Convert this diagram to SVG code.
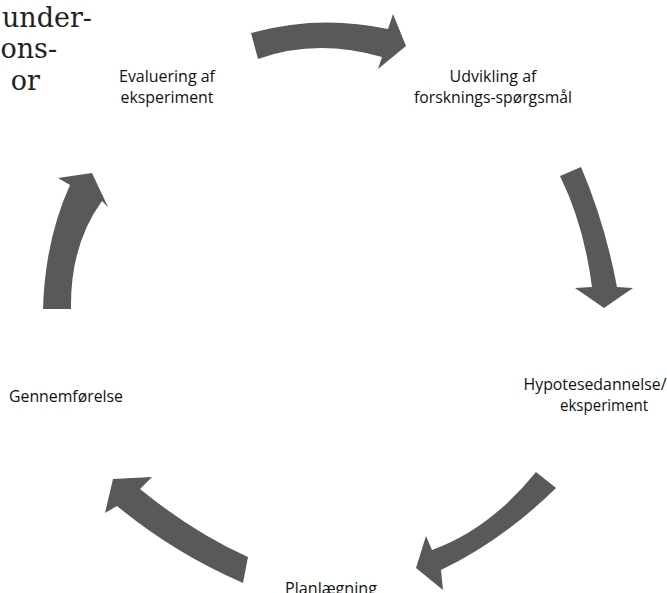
<svg xmlns="http://www.w3.org/2000/svg" width="667" height="593" viewBox="0 0 667 593">
<style>
.lbl{font-family:"Open Sans","Liberation Sans",sans-serif;font-size:16px;fill:#111;text-anchor:middle}
.ser{font-family:"DejaVu Serif","Liberation Serif",serif;font-size:27px;fill:#222;text-anchor:end}
.arr{fill:#595959;stroke:none}
</style>
<rect width="667" height="593" fill="#fff"/>
<g id="bgtext">
<text class="ser" x="92" y="27">under-</text>
<text class="ser" x="57" y="58">ons-</text>
<text class="ser" x="40" y="90">or</text>
</g>
<g id="connectors">
<path class="arr" d="M251,33 Q319,14 388,29 L393,14 L406,46 L378,69 L382,57 Q316,38 258,59 Z"/>
<path class="arr" d="M560,176 L581,167 Q605,223 617,287 L633,288 L604,308 L575,288 L592,287 Q584,225 560,176 Z"/>
<path class="arr" d="M536,472 L556,488 Q502,541 441,570 L443,590 L416,568 L426,536 L432,550 Q490,529 536,472 Z"/>
<path class="arr" d="M243,583 L248,557 Q194,533 140,489 L152,477 L113,479 L105,513 L117,506 Q174,553 243,583 Z"/>
<path class="arr" d="M43,309 L71,309 Q70,245 102,201 L108,207 L92,173 L58,178 L70,185 Q45,240 43,309 Z"/>
</g>
<g id="n-evaluering">
<text class="lbl" x="167" y="82" textLength="96" lengthAdjust="spacingAndGlyphs">Evaluering af</text>
<text class="lbl" x="167" y="103" textLength="93" lengthAdjust="spacingAndGlyphs">eksperiment</text>
</g>
<g id="n-udvikling">
<text class="lbl" x="493" y="82" textLength="87" lengthAdjust="spacingAndGlyphs">Udvikling af</text>
<text class="lbl" x="493" y="103" textLength="158" lengthAdjust="spacingAndGlyphs">forsknings-spørgsmål</text>
</g>
<g id="n-hypotese">
<text class="lbl" x="595" y="390" textLength="143" lengthAdjust="spacingAndGlyphs">Hypotesedannelse/</text>
<text class="lbl" x="604" y="411" textLength="88" lengthAdjust="spacingAndGlyphs">eksperiment</text>
</g>
<g id="n-planlaegning">
<text class="lbl" x="331" y="594" textLength="92" lengthAdjust="spacingAndGlyphs">Planlægning</text>
</g>
<g id="n-gennemfoerelse">
<text class="lbl" x="66" y="402" textLength="114" lengthAdjust="spacingAndGlyphs">Gennemførelse</text>
</g>
</svg>
